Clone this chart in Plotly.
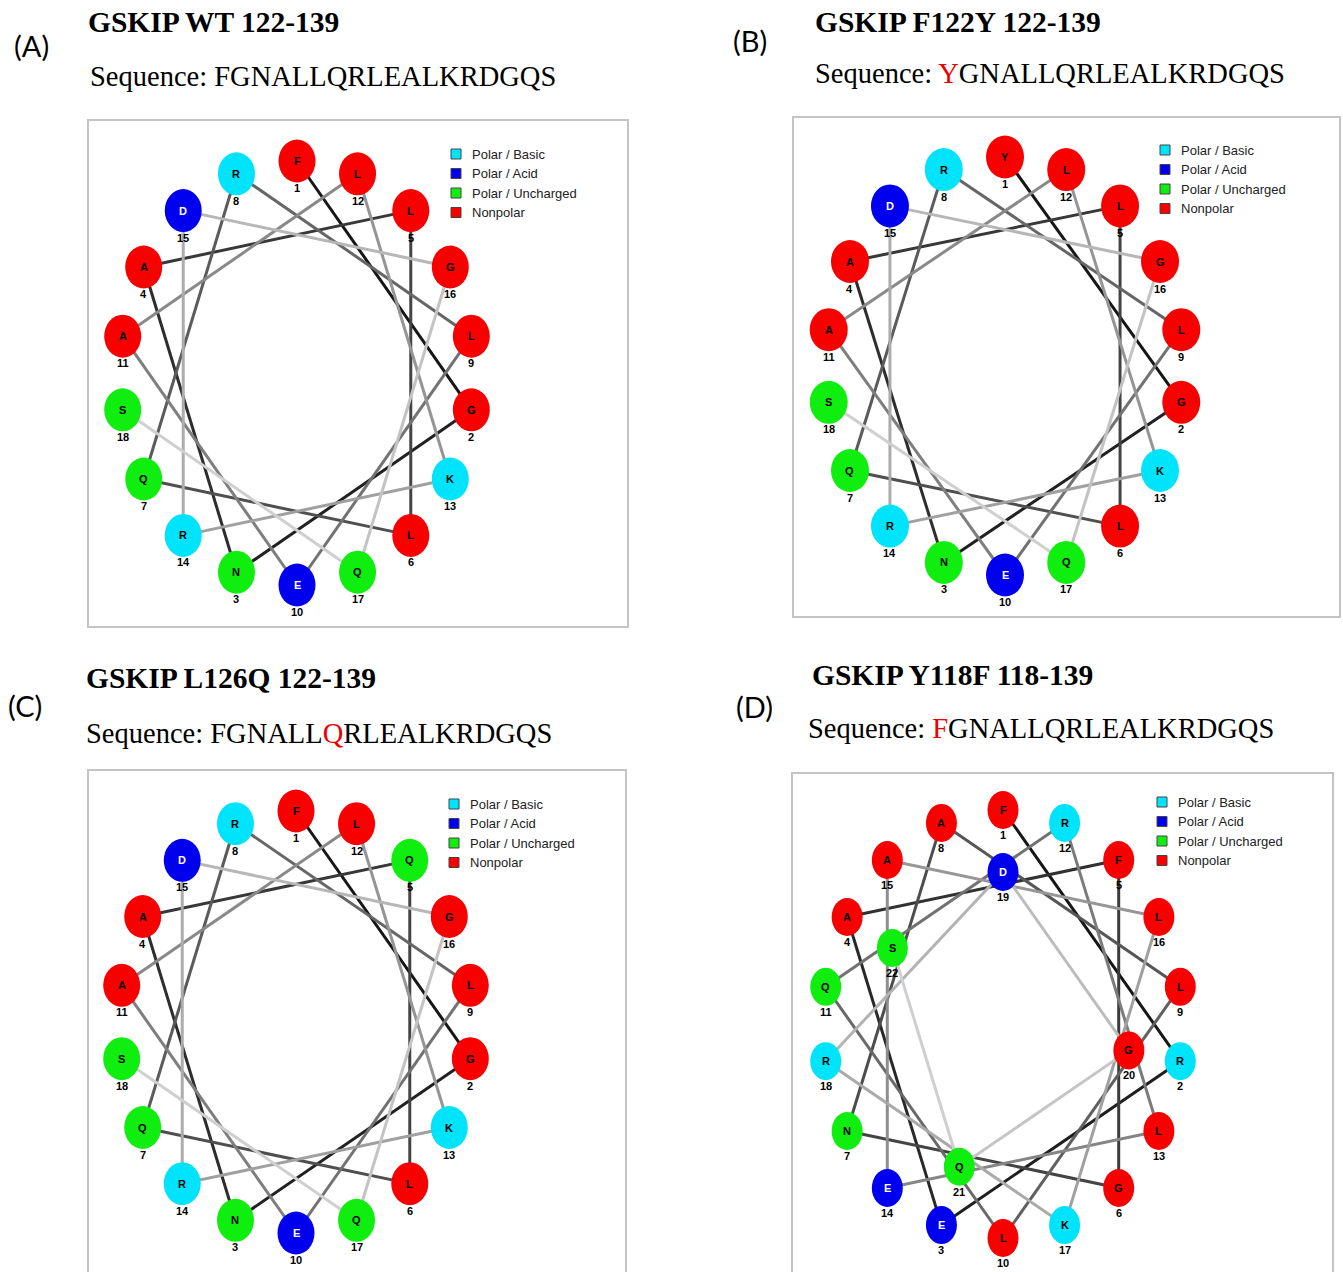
import math
import plotly.graph_objects as go

# ---------------- data ----------------
panel_labels = ["(A)", "(B)", "(C)", "(D)"]
titles = ["GSKIP WT 122-139", "GSKIP F122Y 122-139", "GSKIP L126Q 122-139", "GSKIP Y118F 118-139"]
seq_texts = ["FGNALLQRLEALKRDGQS", "YGNALLQRLEALKRDGQS", "FGNALLQRLEALKRDGQS", "FGNALLQRLEALKRDGQS"]
seq_highlight = [None, 0, 6, 0]          # index of the residue printed in red
wheel_A = list("FGNALLQRLEALKRDGQS")
wheel_B = list("YGNALLQRLEALKRDGQS")
wheel_C = list("FGNAQLQRLEALKRDGQS")
wheel_D = list("FREAFGNALLQRLEALKRDGQS")
wheels = [wheel_A, wheel_B, wheel_C, wheel_D]
classes = ["Polar / Basic", "Polar / Acid", "Polar / Uncharged", "Nonpolar"]
class_members = ["RKH", "DE", "NQSTC", "AGVLIMFWPY"]

# ---------------- style ----------------
class_colors = ["#00e4fb", "#0000ee", "#10ee10", "#f80000"]
class_text = ["black", "white", "black", "black"]
W, H = 1343, 1272

panels = [
    dict(lab=(12, 45), title=(86, 22), seq=(88, 76), box=(88, 120, 628, 627),
         c=(297, 373), rx=177, ry=212, cw=37, ch=43, noff=27, leg=(456, 154)),
    dict(lab=(731, 40), title=(813, 22), seq=(813, 73), box=(793, 117, 1340, 617),
         c=(1005, 366), rx=179, ry=209, cw=38, ch=43, noff=27, leg=(1165, 150)),
    dict(lab=(6, 705), title=(84, 678), seq=(84, 733), box=(88, 770, 626, 1290),
         c=(296, 1022), rx=177, ry=211, cw=37, ch=43, noff=27, leg=(454, 804)),
    dict(lab=(734, 706), title=(810, 675), seq=(806, 728), box=(792, 773, 1333, 1290),
         c=(1003, 1024), rx=180, ry=214, cw=31, ch=38, noff=25, leg=(1162, 802)),
]


def res_class(r):
    for k, m in enumerate(class_members):
        if r in m:
            return k
    return 3


fig = go.Figure()
shapes = []
annotations = []

for p_i, (p, wheel) in enumerate(zip(panels, wheels)):
    # frame
    x0, y0, x1, y1 = p["box"]
    shapes.append(dict(type="rect", xref="x", yref="y", x0=x0, y0=y0, x1=x1, y1=y1,
                       line=dict(color="#c4c4c4", width=2), fillcolor="white", layer="below"))
    # positions on the helical wheel (100 deg per residue, 18 per ring)
    cx, cy = p["c"]
    pts = []
    for i, r in enumerate(wheel):
        a = math.radians((i * 100) % 360)
        f = 1.0 - 0.29 * (i // 18)
        pts.append((cx + p["rx"] * f * math.sin(a), cy - p["ry"] * f * math.cos(a)))
    nseg = len(wheel) - 1
    for k in range(nseg):
        g = int(22 + 185 * k / max(nseg - 1, 1))
        col = f"rgb({g},{g},{g})"
        fig.add_trace(go.Scatter(x=[pts[k][0], pts[k + 1][0]], y=[pts[k][1], pts[k + 1][1]],
                                 mode="lines", line=dict(color=col, width=3),
                                 hoverinfo="skip", showlegend=False))
    for i, r in enumerate(wheel):
        x, y = pts[i]
        c = res_class(r)
        shapes.append(dict(type="circle", xref="x", yref="y",
                           x0=x - p["cw"] / 2, x1=x + p["cw"] / 2,
                           y0=y - p["ch"] / 2, y1=y + p["ch"] / 2,
                           fillcolor=class_colors[c], line=dict(width=0), layer="above"))
        annotations.append(dict(x=x, y=y, xref="x", yref="y", text=f"<b>{r}</b>",
                                showarrow=False, font=dict(family="Liberation Sans", size=11,
                                                           color=class_text[c])))
        annotations.append(dict(x=x, y=y + p["noff"], xref="x", yref="y", text=f"<b>{i + 1}</b>",
                                showarrow=False, font=dict(family="Liberation Sans", size=11,
                                                           color="black")))
    # legend
    lx, ly = p["leg"]
    for k, name in enumerate(classes):
        yy = ly + k * 19.5
        shapes.append(dict(type="rect", xref="x", yref="y", x0=lx - 5, x1=lx + 5,
                           y0=yy - 5, y1=yy + 5, fillcolor=class_colors[k],
                           line=dict(color="#444", width=1), layer="above"))
        annotations.append(dict(x=lx + 14, y=yy, xref="x", yref="y", text=name,
                                xanchor="left", showarrow=False,
                                font=dict(family="Liberation Sans", size=13, color="#222")))
    # texts
    annotations.append(dict(x=p["lab"][0], y=p["lab"][1], xref="x", yref="y",
                            text=panel_labels[p_i], xanchor="left", showarrow=False,
                            font=dict(family="Lato", size=29, color="black")))
    annotations.append(dict(x=p["title"][0], y=p["title"][1], xref="x", yref="y",
                            text=f"<b>{titles[p_i]}</b>", xanchor="left", showarrow=False,
                            font=dict(family="Liberation Serif", size=29.5, color="black")))
    s = seq_texts[p_i]
    hi = seq_highlight[p_i]
    if hi is None:
        st = s
    else:
        st = s[:hi] + f"<span style='color:#ee0000'>{s[hi]}</span>" + s[hi + 1:]
    annotations.append(dict(x=p["seq"][0], y=p["seq"][1], xref="x", yref="y",
                            text="Sequence: " + st, xanchor="left", showarrow=False,
                            font=dict(family="Liberation Serif", size=28.5, color="black")))

fig.update_layout(
    width=W, height=H, autosize=False,
    margin=dict(l=0, r=0, t=0, b=0),
    paper_bgcolor="white", plot_bgcolor="white",
    xaxis=dict(range=[0, W], visible=False, fixedrange=True),
    yaxis=dict(range=[H, 0], visible=False, fixedrange=True),
    shapes=shapes, annotations=annotations, showlegend=False,
)

fig.write_html("out.html", config={"displayModeBar": False},
               post_script="document.body.style.margin='0';document.body.style.overflow='hidden';")
